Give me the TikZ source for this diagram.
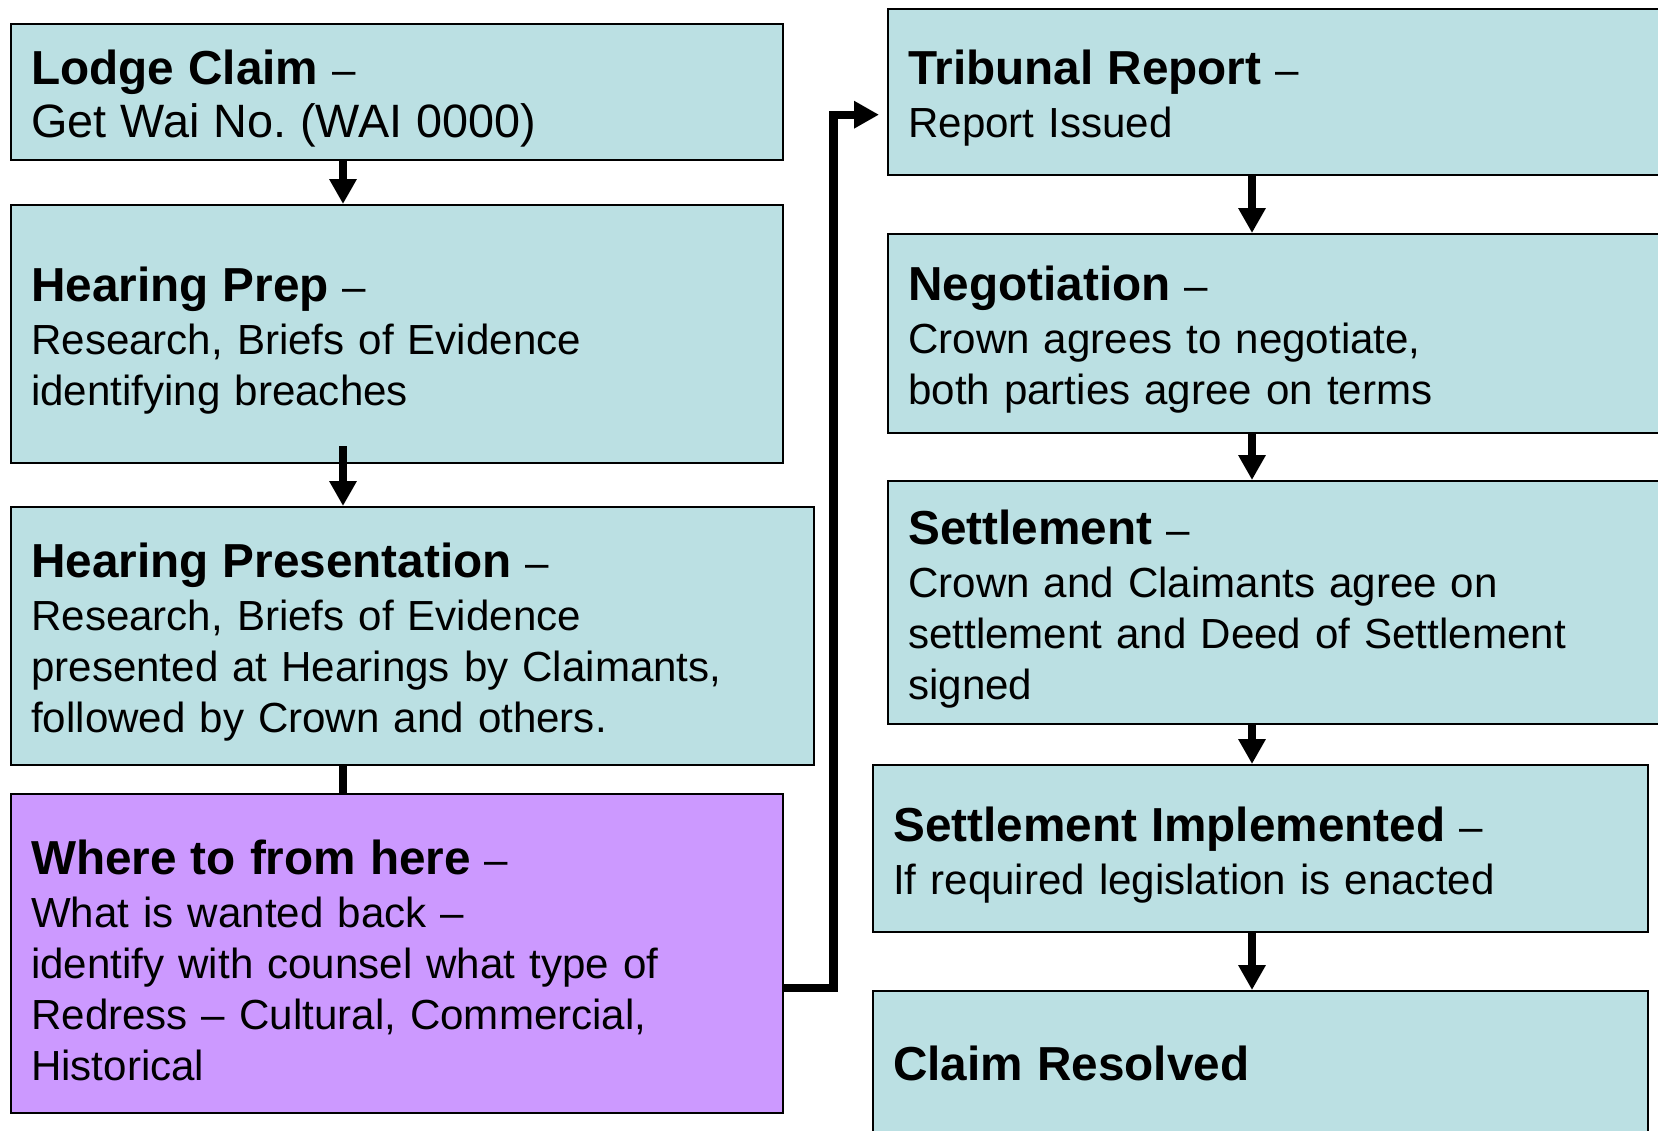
\documentclass[tikz,border=0pt]{standalone}
\usepackage{fontspec}
\setmainfont{Liberation Sans}
\frenchspacing
\usetikzlibrary{arrows.meta}
\definecolor{stagecyan}{RGB}{187,224,227}
\definecolor{stagepurple}{RGB}{204,153,255}
\tikzset{
  stage/.style = {
    draw=black, line width=1.2pt, fill=stagecyan,
    anchor=north west, align=left, inner xsep=10pt, inner ysep=0pt,
    text height=23.5pt,
    font=\fontsize{21.05}{25.5}\selectfont
  },
  boxdim/.style 2 args = {
    minimum width=#1*0.5pt, minimum height=#2*0.5pt, text width=#1*0.5pt-20pt
  },
  flowline/.style = {line width=4.2pt},
  flowarrow/.style = {flowline, -{Triangle[length=12.5pt,width=13pt]}}
}
\newcommand{\steptitle}[1]{{\fontsize{23.85}{25.5}\selectfont\bfseries #1}}

\begin{document}
\begin{tikzpicture}[x=0.5pt, y=-0.5pt]
  \useasboundingbox[fill=white] (0,0) rectangle (1658,1130);
  % left column
  \node[stage, boxdim={772}{136}] (lodge) at (10,23)
    {\steptitle{Lodge Claim} –\\[1pt] {\fontsize{23.4}{25.5}\selectfont Get Wai No. (WAI 0000)}};
  \node[stage, boxdim={772}{258}] (prep) at (10,204)
    {\steptitle{Hearing Prep} –\\[1pt] Research, Briefs of Evidence\\ identifying breaches};
  \node[stage, boxdim={803}{258}] (pres) at (10,506)
    {\steptitle{Hearing Presentation} –\\[1pt] Research, Briefs of Evidence\\ presented at Hearings by Claimants,\\ followed by Crown and others.};
  \node[stage, fill=stagepurple, boxdim={772}{319}] (where) at (10,793)
    {\steptitle{Where to from here} –\\[1pt] What is wanted back –\\ identify with counsel what type of\\ Redress – Cultural, Commercial,\\ Historical};
  % right column
  \node[stage, boxdim={840}{166}] (tribunal) at (887,8)
    {\steptitle{Tribunal Report} –\\[1pt] Report Issued};
  \node[stage, boxdim={840}{199}] (nego) at (887,233)
    {\steptitle{Negotiation} –\\[1pt] Crown agrees to negotiate,\\ both parties agree on terms};
  \node[stage, boxdim={840}{243}] (settle) at (887,480)
    {\steptitle{Settlement} –\\[1pt] Crown and Claimants agree on\\ settlement and Deed of Settlement\\ signed};
  \node[stage, boxdim={775}{167}] (impl) at (872,764)
    {\steptitle{Settlement Implemented} –\\[1pt] If required legislation is enacted};
  \node[stage, text height=17.5pt, boxdim={775}{144}] (resolved) at (872,990)
    {\steptitle{Claim Resolved}};
  % arrows
  \coordinate (lx) at (343,0);
  \coordinate (rx) at (1252,0);
  \draw[flowarrow] (lodge.south -| lx) -- (prep.north -| lx);
  \draw[flowarrow] ([yshift=9pt]prep.south -| lx) -- (pres.north -| lx);
  \draw[flowline] (pres.south -| lx) -- (where.north -| lx);
  \draw[flowarrow, shorten >=4pt] ([yshift=-17.25pt]where.east) -- ++(24.5pt,0) |- ([yshift=-11.25pt]tribunal.west);
  \draw[flowarrow] (tribunal.south -| rx) -- (nego.north -| rx);
  \draw[flowarrow] (nego.south -| rx) -- (settle.north -| rx);
  \draw[flowarrow] (settle.south -| rx) -- (impl.north -| rx);
  \draw[flowarrow] (impl.south -| rx) -- (resolved.north -| rx);
\end{tikzpicture}
\end{document}
